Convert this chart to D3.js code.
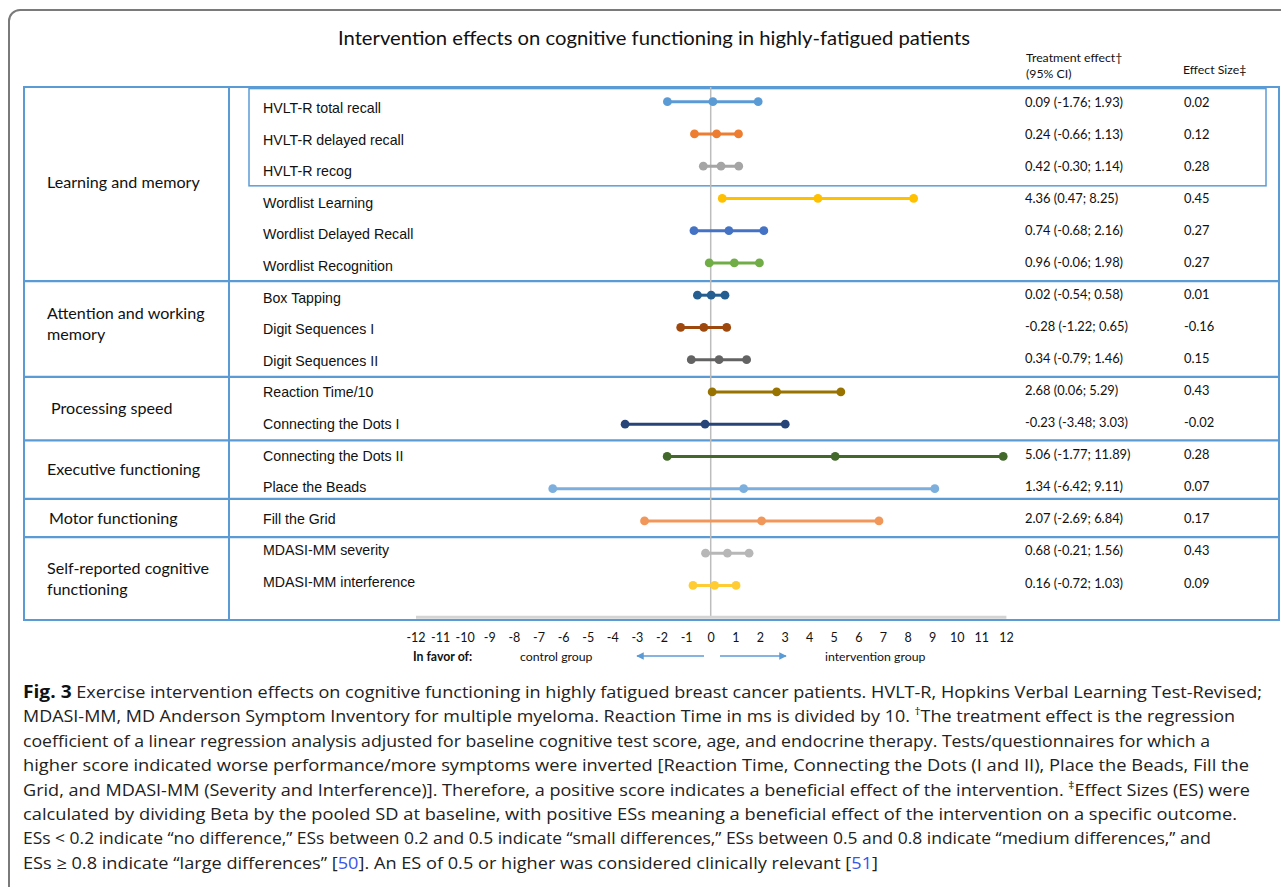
<!DOCTYPE html>
<html>
<head>
<meta charset="utf-8">
<script src="https://cdn.jsdelivr.net/npm/d3@7"></script>
<style>
  html, body { margin: 0; padding: 0; background: #fff; }
  svg { display: block; }
</style>
</head>
<body>
<svg id="chart" width="1281" height="887"></svg>
<script>
// ---------------- data ----------------
const rowLabels = [
  "HVLT-R total recall", "HVLT-R delayed recall", "HVLT-R recog",
  "Wordlist Learning", "Wordlist Delayed Recall", "Wordlist Recognition",
  "Box Tapping", "Digit Sequences I", "Digit Sequences II",
  "Reaction Time/10", "Connecting the Dots I",
  "Connecting the Dots II", "Place the Beads",
  "Fill the Grid",
  "MDASI-MM severity", "MDASI-MM interference"
];
const effect  = [0.09, 0.24, 0.42, 4.36, 0.74, 0.96, 0.02, -0.28, 0.34, 2.68, -0.23, 5.06, 1.34, 2.07, 0.68, 0.16];
const ciLow   = [-1.76, -0.66, -0.30, 0.47, -0.68, -0.06, -0.54, -1.22, -0.79, 0.06, -3.48, -1.77, -6.42, -2.69, -0.21, -0.72];
const ciHigh  = [1.93, 1.13, 1.14, 8.25, 2.16, 1.98, 0.58, 0.65, 1.46, 5.29, 3.03, 11.89, 9.11, 6.84, 1.56, 1.03];
const effectSize = ["0.02", "0.12", "0.28", "0.45", "0.27", "0.27", "0.01", "-0.16", "0.15", "0.43", "-0.02", "0.28", "0.07", "0.17", "0.43", "0.09"];
const rowColors = [
  "#5b9bd5", "#ed7d31", "#a5a5a5", "#ffc000", "#4472c4", "#70ad47",
  "#255e91", "#9e480e", "#636363", "#997300", "#264478", "#43682b",
  "#7cafdd", "#f1975a", "#b7b7b7", "#ffcd33"
];
const groupNames = [
  ["Learning and memory"],
  ["Attention and working", "memory"],
  ["Processing speed"],
  ["Executive functioning"],
  ["Motor functioning"],
  ["Self-reported cognitive", "functioning"]
];
const groupSizes = [6, 3, 2, 2, 1, 2];
const tickValues = d3.range(-12, 13);
const titleText = "Intervention effects on cognitive functioning in highly-fatigued patients";

// caption lines: segments [text, kind]
const captionLines = [
  [["Fig. 3", "b"], ["  Exercise intervention effects on cognitive functioning in highly fatigued breast cancer patients. HVLT-R, Hopkins Verbal Learning Test-Revised;", ""]],
  [["MDASI-MM, MD Anderson Symptom Inventory for multiple myeloma. Reaction Time in ms is divided by 10. ", ""], ["†", "sup"], ["The treatment effect is the regression", ""]],
  [["coefficient of a linear regression analysis adjusted for baseline cognitive test score, age, and endocrine therapy. Tests/questionnaires for which a", ""]],
  [["higher score indicated worse performance/more symptoms were inverted [Reaction Time, Connecting the Dots (I and II), Place the Beads, Fill the", ""]],
  [["Grid, and MDASI-MM (Severity and Interference)]. Therefore, a positive score indicates a beneficial effect of the intervention. ", ""], ["‡", "sup"], ["Effect Sizes (ES) were", ""]],
  [["calculated by dividing Beta by the pooled SD at baseline, with positive ESs meaning a beneficial effect of the intervention on a specific outcome.", ""]],
  [["ESs < 0.2 indicate “no difference,” ESs between 0.2 and 0.5 indicate “small differences,” ESs between 0.5 and 0.8 indicate “medium differences,” and", ""]],
  [["ESs ≥ 0.8 indicate “large differences” [", ""], ["50", "ref"], ["]. An ES of 0.5 or higher was considered clinically relevant [", ""], ["51", "ref"], ["]", ""]]
];
const captionWidths = [1239, 1212, 1187, 1226, 1227, 1214, 1188, 855];

// ---------------- layout ----------------
const svg = d3.select("#chart");
const blue = "#5b9bd5";
const x = d3.scaleLinear().domain([-12, 12]).range([415.5, 1005.9]);
const y = d3.scaleLinear().domain([0, 16]).range([101.7, 617.7]);
const yLabel = d3.scaleLinear().domain([0, 15]).range([108, 582]);
const yValue = d3.scaleLinear().domain([0, 15]).range([102, 583]);

// outer gray frame
svg.append("rect")
  .attr("x", 9).attr("y", 10).attr("width", 1320).attr("height", 920)
  .attr("rx", 11)
  .attr("fill", "none").attr("stroke", "#7a7a7a").attr("stroke-width", 2);

// title
svg.append("text")
  .attr("x", 654).attr("y", 45)
  .attr("text-anchor", "middle")
  .attr("font-family", "Lato, 'Open Sans', sans-serif")
  .attr("font-size", 19)
  .attr("fill", "#111")
  .attr("textLength", 632).attr("lengthAdjust", "spacingAndGlyphs")
  .text(titleText);

// column headers
const hdr = svg.append("g")
  .attr("font-family", "Lato, 'Open Sans', sans-serif")
  .attr("font-size", 12.3).attr("fill", "#111");
hdr.append("text").attr("x", 1026).attr("y", 62).text("Treatment effect†");
hdr.append("text").attr("x", 1026).attr("y", 78).text("(95% CI)");
hdr.append("text").attr("x", 1183).attr("y", 74).text("Effect Size‡");

// table lines
const tableTop = 87, tableBottom = 620, tableLeft = 24, tableRight = 1279, catDiv = 229;
const starts = [];
groupSizes.reduce((acc, s) => { starts.push(acc); return acc + s; }, 0);
const dividerNudge = [0, 2, 1, 0, -6, 0];
const bounds = starts.map((s, i) => i === 0 ? tableTop : y(s - 0.5) + dividerNudge[i]);
bounds.push(tableBottom);

const grid = svg.append("g").attr("stroke", blue).attr("fill", "none");
grid.append("rect")
  .attr("x", tableLeft).attr("y", tableTop)
  .attr("width", tableRight - tableLeft).attr("height", tableBottom - tableTop)
  .attr("stroke-width", 2);
grid.append("line")
  .attr("x1", catDiv).attr("x2", catDiv).attr("y1", tableTop).attr("y2", tableBottom)
  .attr("stroke-width", 2);
grid.selectAll("line.div").data(bounds.slice(1, -1)).join("line")
  .attr("class", "div")
  .attr("x1", tableLeft).attr("x2", tableRight)
  .attr("y1", d => d).attr("y2", d => d)
  .attr("stroke-width", 2.2);
// inner HVLT box
grid.append("rect")
  .attr("x", 249).attr("y", y(-0.5) + 3)
  .attr("width", 1266 - 249).attr("height", y(2.5) + 3.5 - (y(-0.5) + 3))
  .attr("stroke-width", 1.5);

// group labels
const catG = svg.append("g")
  .attr("font-family", "Lato, 'Open Sans', sans-serif")
  .attr("font-size", 16.1).attr("fill", "#111");
groupNames.forEach((lines, i) => {
  const cy = (bounds[i] + bounds[i + 1]) / 2 - (i === 1 ? 5 : 0) - (i === 0 ? 1.5 : 0);
  const lh = 21;
  const x0 = [47, 47, 51, 47, 49, 47][i];
  lines.forEach((ln, j) => {
    catG.append("text")
      .attr("x", x0)
      .attr("y", cy + (j - (lines.length - 1) / 2) * lh)
      .attr("dy", "0.35em")
      .text(ln);
  });
});

// row labels
svg.append("g")
  .attr("font-family", "'Liberation Sans', Arial, sans-serif")
  .attr("font-size", 14.2).attr("fill", "#111")
  .selectAll("text").data(rowLabels).join("text")
  .attr("x", 263).attr("y", (d, i) => yLabel(i))
  .attr("dy", "0.35em")
  .text(d => d);

// values columns
const fmt = v => v.toFixed(2);
const valG = svg.append("g")
  .attr("font-family", "Lato, 'Open Sans', sans-serif")
  .attr("font-size", 12.9).attr("fill", "#111");
valG.selectAll("text.ci").data(rowLabels).join("text")
  .attr("class", "ci")
  .attr("x", 1025).attr("y", (d, i) => yValue(i))
  .attr("dy", "0.35em")
  .text((d, i) => `${fmt(effect[i])} (${fmt(ciLow[i])}; ${fmt(ciHigh[i])})`);
valG.selectAll("text.es").data(effectSize).join("text")
  .attr("class", "es")
  .attr("x", 1184).attr("y", (d, i) => yValue(i))
  .attr("dy", "0.35em")
  .text(d => d);

// zero line
svg.append("line")
  .attr("x1", x(0)).attr("x2", x(0))
  .attr("y1", tableTop).attr("y2", y(16))
  .attr("stroke", "#bdbdbd").attr("stroke-width", 1.5);

// axis
const axis = d3.axisBottom(x).tickValues(tickValues).tickSize(0).tickSizeOuter(0)
  .tickPadding(16).tickFormat(d => String(d));
const ax = svg.append("g").attr("transform", `translate(0,${y(16) - 1})`).call(axis);
ax.select(".domain").attr("stroke", "#d4d4d4").attr("stroke-width", 3);
ax.selectAll("text")
  .attr("font-family", "Lato, 'Open Sans', sans-serif")
  .attr("font-size", 12.5).attr("fill", "#111");

// redraw bottom table line over the axis domain
svg.append("line")
  .attr("x1", tableLeft).attr("x2", tableRight)
  .attr("y1", tableBottom).attr("y2", tableBottom)
  .attr("stroke", blue).attr("stroke-width", 2);

// forest intervals
const marks = svg.append("g");
rowLabels.forEach((lab, i) => {
  const g = marks.append("g");
  g.append("line")
    .attr("x1", x(ciLow[i])).attr("x2", x(ciHigh[i]))
    .attr("y1", y(i)).attr("y2", y(i))
    .attr("stroke", rowColors[i]).attr("stroke-width", 3);
  g.selectAll("circle").data([ciLow[i], effect[i], ciHigh[i]]).join("circle")
    .attr("cx", d => x(d)).attr("cy", y(i)).attr("r", 4.4)
    .attr("fill", rowColors[i]);
});

// favour legend
const fav = svg.append("g")
  .attr("font-family", "Lato, 'Open Sans', sans-serif")
  .attr("font-size", 12.3).attr("fill", "#111");
fav.append("text").attr("x", 413).attr("y", 661).attr("font-weight", "bold").text("In favor of:");
fav.append("text").attr("x", 520).attr("y", 661).text("control group");
fav.append("text").attr("x", 825).attr("y", 661).text("intervention group");
const defs = svg.append("defs");
defs.append("marker").attr("id", "ah").attr("viewBox", "0 0 10 10")
  .attr("refX", 9).attr("refY", 5).attr("markerWidth", 5).attr("markerHeight", 5)
  .attr("orient", "auto-start-reverse")
  .append("path").attr("d", "M0,0 L10,5 L0,10 z").attr("fill", blue);
fav.append("line").attr("x1", 704).attr("x2", 637).attr("y1", 656).attr("y2", 656)
  .attr("stroke", blue).attr("stroke-width", 1.5).attr("marker-end", "url(#ah)");
fav.append("line").attr("x1", 720).attr("x2", 786).attr("y1", 656).attr("y2", 656)
  .attr("stroke", blue).attr("stroke-width", 1.5).attr("marker-end", "url(#ah)");

// caption
const cap = svg.append("g")
  .attr("font-family", "'Open Sans', 'Noto Sans', sans-serif")
  .attr("font-size", 16.5).attr("fill", "#222");
captionLines.forEach((segs, i) => {
  const t = cap.append("text")
    .attr("x", 23).attr("y", 698 + i * 24.4)
    .attr("textLength", captionWidths[i]).attr("lengthAdjust", "spacingAndGlyphs");
  segs.forEach(([s, kind]) => {
    const ts = t.append("tspan").text(s);
    if (kind === "b") ts.attr("font-weight", "bold").attr("fill", "#111").attr("font-size", 17.5);
    if (kind === "sup") ts.attr("font-size", 11).attr("baseline-shift", "super");
    if (kind === "ref") ts.attr("fill", "#3b55e6");
  });
});
</script>
</body>
</html>
